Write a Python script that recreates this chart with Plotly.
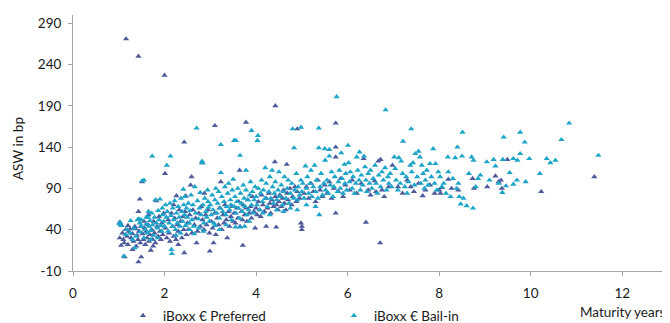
import plotly.graph_objects as go

# ---------------- data ----------------
bailin_maturity = [
    1.01, 1.03, 1.06, 1.11, 1.15, 1.18, 1.26, 1.25, 1.30, 1.33, 1.35, 1.38, 1.41, 1.44, 1.46, 1.49, 1.47, 1.50, 1.51, 1.55,
    1.55, 1.58, 1.60, 1.62, 1.64, 1.66, 1.68, 1.70, 1.72, 1.73, 1.74, 1.76, 1.78, 1.80, 1.82, 1.84, 1.86, 1.88, 1.90, 1.92,
    1.94, 1.96, 1.98, 1.60, 1.70, 1.85, 1.95, 1.65,
    2.00, 2.02, 2.05, 2.04, 2.06, 2.08, 2.10, 2.12, 2.13, 2.14, 2.15, 2.16, 2.17, 2.18, 2.20, 2.22, 2.24, 2.26, 2.28, 2.30,
    2.32, 2.34, 2.36, 2.38, 2.40, 2.41, 2.42, 2.44, 2.46, 2.48, 2.25, 2.35, 2.45,
    2.50, 2.52, 2.54, 2.56, 2.58, 2.60, 2.62, 2.64, 2.66, 2.68, 2.70, 2.72, 2.74, 2.76, 2.78, 2.80, 2.82, 2.83, 2.84, 2.86,
    2.88, 2.90, 2.92, 2.94, 2.96, 2.98, 2.55, 2.65, 2.75, 2.85, 2.95,
    3.00, 3.02, 3.04, 3.06, 3.08, 3.10, 3.12, 3.14, 3.16, 3.18, 3.20, 3.22, 3.23, 3.23, 3.25, 3.27, 3.30, 3.32, 3.34, 3.36,
    3.38, 3.40, 3.42, 3.44, 3.46, 3.48, 3.50, 3.52, 3.56, 3.10, 3.20, 3.35, 3.45,
    3.52, 3.54, 3.56, 3.58, 3.60, 3.62, 3.64, 3.65, 3.66, 3.68, 3.70, 3.72, 3.74, 3.76, 3.78, 3.78, 3.80, 3.82, 3.84, 3.86,
    3.88, 3.90, 3.90, 3.92, 3.94, 3.96, 3.98, 3.55, 3.65, 3.75, 3.85,
    4.00, 4.02, 4.04, 4.03, 4.05, 4.08, 4.10, 4.12, 4.14, 4.16, 4.20, 4.20, 4.22, 4.25, 4.28, 4.30, 4.32, 4.35, 4.36, 4.38,
    4.40, 4.42, 4.45, 4.48, 4.50, 4.15, 4.30, 4.45,
    4.52, 4.55, 4.58, 4.60, 4.62, 4.65, 4.68, 4.70, 4.72, 4.75, 4.78, 4.80, 4.83, 4.82, 4.85, 4.88, 4.90, 4.92, 4.95, 4.98,
    4.98, 4.60, 4.75, 4.90,
    5.00, 5.02, 5.05, 5.08, 5.10, 5.12, 5.15, 5.18, 5.20, 5.22, 5.25, 5.28, 5.30, 5.32, 5.35, 5.37, 5.37, 5.38, 5.40, 5.42,
    5.45, 5.48, 5.50, 5.51, 5.10, 5.30,
    5.52, 5.55, 5.58, 5.60, 5.60, 5.62, 5.65, 5.68, 5.70, 5.72, 5.76, 5.78, 5.80, 5.82, 5.84, 5.86, 5.88, 5.90, 5.93, 5.94,
    5.96, 5.98,
    6.01, 6.02, 6.04, 6.06, 6.10, 6.12, 6.15, 6.18, 6.20, 6.22, 6.25, 6.26, 6.28, 6.30, 6.33, 6.36, 6.38, 6.40, 6.42, 6.45,
    6.48,
    6.50, 6.53, 6.56, 6.60, 6.62, 6.65, 6.68, 6.72, 6.75, 6.78, 6.82, 6.83, 6.85, 6.88, 6.90, 6.93, 6.96,
    7.02, 7.04, 7.06, 7.10, 7.12, 7.15, 7.17, 7.20, 7.21, 7.25, 7.28, 7.30, 7.33, 7.37, 7.39, 7.40, 7.43, 7.46, 7.48,
    7.52, 7.55, 7.58, 7.60, 7.62, 7.65, 7.68, 7.70, 7.73, 7.76, 7.80, 7.83, 7.87, 7.90, 7.92, 7.95, 7.98,
    8.02, 8.06, 8.10, 8.15, 8.19, 8.20, 8.25, 8.30, 8.35, 8.38, 8.40, 8.42, 8.47, 8.50, 8.51, 8.53, 8.44, 8.60, 8.65, 8.74,
    8.71, 8.75, 8.80, 8.85, 8.90,
    9.04, 9.10, 9.19, 9.23, 9.30, 9.39, 9.41, 9.46, 9.38, 9.54, 9.62, 9.62, 9.70, 9.71, 9.77, 9.77, 9.87, 9.89, 9.97,
    10.20, 10.35, 10.43, 10.54, 10.67, 10.84, 11.48,
]
bailin_asw = [
    47, 49, 45, 8, 34, 40, 51, 36, 28, 42, 18, 32, 52, 53, 48, 52, 37, 44, 99, 100,
    30, 40, 47, 36, 55, 44, 51, 39, 60, 129, 46, 33, 55, 76, 48, 42, 63, 52, 77, 45,
    38, 58, 50, 55, 28, 30, 66, 62,
    44, 70, 118, 55, 62, 38, 48, 72, 129, 57, 16, 11, 44, 66, 52, 75, 40, 60, 48, 68,
    55, 44, 78, 62, 50, 89, 70, 58, 45, 66, 33, 36, 80,
    55, 72, 48, 63, 82, 52, 70, 44, 92, 60, 163, 75, 53, 66, 85, 58, 123, 121, 70, 48,
    78, 62, 55, 88, 67, 50, 40, 35, 42, 38, 74,
    70, 58, 82, 64, 48, 76, 90, 60, 72, 86, 54, 66, 109, 143, 80, 62, 74, 92, 58, 68,
    84, 96, 64, 76, 52, 88, 101, 148, 148, 45, 40, 46, 70,
    68, 80, 60, 74, 90, 66, 54, 130, 84, 72, 62, 94, 78, 68, 112, 88, 58, 76, 64, 82,
    98, 160, 70, 86, 60, 76, 92, 43, 43, 44, 50,
    80, 70, 154, 148, 90, 64, 84, 100, 74, 88, 115, 78, 96, 68, 86, 104, 78, 112, 92, 72,
    84, 98, 76, 88, 110, 60, 58, 64,
    80, 94, 70, 86, 104, 78, 90, 100, 72, 84, 96, 162, 139, 78, 88, 108, 76, 92, 82, 164,
    100, 62, 66, 64,
    86, 96, 78, 117, 90, 104, 84, 96, 112, 80, 92, 118, 86, 100, 78, 163, 139, 58, 92, 108,
    82, 96, 138, 124, 70, 68,
    88, 100, 84, 137, 129, 94, 110, 80, 92, 104, 201, 86, 98, 112, 90, 133, 102, 84, 119, 96,
    108, 88,
    142, 121, 98, 110, 90, 104, 84, 96, 128, 112, 100, 134, 88, 106, 94, 129, 116, 100, 86, 108,
    96,
    112, 90, 102, 118, 96, 84, 106, 92, 110, 100, 115, 185, 88, 104, 96, 108, 92,
    128, 114, 100, 88, 127, 96, 123, 108, 147, 92, 104, 84, 98, 118, 162, 110, 121, 94, 132,
    104, 135, 128, 96, 118, 108, 90, 100, 112, 94, 120, 104, 138, 96, 120, 88, 110,
    104, 92, 96, 84, 128, 110, 80, 102, 127, 90, 140, 96, 71, 129, 158, 78, 80, 69, 108, 66,
    128, 124, 92, 102, 106,
    122, 100, 125, 117, 96, 125, 152, 93, 85, 109, 126, 95, 100, 124, 132, 158, 146, 98, 126,
    108, 126, 121, 124, 149, 169, 130,
]

preferred_maturity = [
    1.16, 1.43, 2.00, 4.42,
    1.02, 1.05, 1.02, 1.05, 1.08, 1.10, 1.12, 1.13, 1.15, 1.18, 1.20, 1.22, 1.25, 1.27, 1.30, 1.32, 1.35, 1.37, 1.38, 1.40,
    1.42, 1.43, 1.44, 1.46, 1.47, 1.49, 1.43, 1.48, 1.20, 1.30,
    1.51, 1.52, 1.54, 1.56, 1.58, 1.60, 1.62, 1.64, 1.66, 1.68, 1.70, 1.72, 1.74, 1.76, 1.78, 1.80, 1.82, 1.84, 1.86, 1.88,
    1.90, 1.92, 1.94, 1.96, 1.98, 1.55, 1.65, 1.75,
    2.01, 2.02, 2.05, 2.08, 2.10, 2.12, 2.15, 2.18, 2.20, 2.22, 2.25, 2.26, 2.28, 2.30, 2.32, 2.35, 2.38, 2.40, 2.42, 2.43,
    2.43, 2.45, 2.46, 2.48, 2.20, 2.30,
    2.50, 2.52, 2.55, 2.57, 2.59, 2.60, 2.62, 2.65, 2.68, 2.70, 2.72, 2.75, 2.78, 2.80, 2.82, 2.83, 2.86, 2.87, 2.90, 2.92,
    2.95, 2.98, 2.99,
    3.02, 3.05, 3.07, 3.10, 3.10, 3.12, 3.15, 3.18, 3.20, 3.23, 3.25, 3.28, 3.30, 3.32, 3.35, 3.37, 3.40, 3.42, 3.45, 3.48,
    3.50,
    3.52, 3.55, 3.58, 3.60, 3.62, 3.64, 3.65, 3.68, 3.70, 3.71, 3.72, 3.75, 3.78, 3.78, 3.80, 3.82, 3.85, 3.88, 3.90, 3.92,
    3.95, 3.98,
    4.00, 4.02, 4.05, 4.08, 4.10, 4.12, 4.15, 4.18, 4.22, 4.22, 4.25, 4.28, 4.30, 4.32, 4.35, 4.38, 4.41, 4.42, 4.44, 4.45,
    4.48,
    4.50, 4.52, 4.55, 4.58, 4.60, 4.62, 4.65, 4.67, 4.68, 4.70, 4.74, 4.78, 4.80, 4.85, 4.88, 4.90, 4.90, 4.95, 4.98, 5.00,
    5.00,
    5.05, 5.10, 5.15, 5.20, 5.25, 5.30, 5.35, 5.40, 5.45, 5.50, 5.55, 5.60, 5.65, 5.70, 5.74, 5.74, 5.74, 5.74, 5.80, 5.85,
    5.90, 5.95,
    6.05, 6.10, 6.20, 6.30, 6.35, 6.40, 6.45, 6.50, 6.59, 6.62, 6.67, 6.71, 6.72, 6.75, 6.80, 6.90, 6.98,
    7.10, 7.20, 7.30, 7.38, 7.45, 7.55, 7.64, 7.70, 7.80, 7.90,
    8.00, 8.03, 8.06, 8.20, 8.27, 8.42, 8.73, 8.76, 9.05, 9.23, 9.30, 9.35, 9.37, 9.49, 10.23, 11.39,
]
preferred_asw = [
    271, 250, 227, 190,
    49, 46, 30, 21, 36, 28, 24, 7, 40, 32, 22, 38, 41, 30, 35, 26, 44, 41, 20, 33,
    28, 62, 38, 77, 24, 7, 1, 44, 45, 16,
    98, 35, 28, 42, 22, 38, 30, 46, 26, 34, 15, 40, 28, 50, 36, 24, 75, 44, 32, 56,
    38, 28, 48, 34, 60, 50, 58, 20,
    108, 42, 30, 52, 36, 26, 60, 44, 32, 54, 28, 81, 46, 38, 64, 50, 30, 56, 40, 146,
    12, 62, 81, 34, 70, 22,
    48, 40, 58, 94, 104, 36, 64, 46, 54, 24, 38, 60, 44, 68, 121, 52, 40, 84, 58, 46,
    64, 36, 14,
    50, 42, 24, 166, 60, 34, 54, 46, 66, 98, 40, 58, 48, 70, 52, 30, 62, 44, 56, 68,
    50,
    60, 48, 66, 54, 74, 112, 44, 62, 52, 21, 70, 58, 170, 66, 50, 76, 60, 68, 54, 80,
    62, 42,
    66, 58, 74, 64, 56, 82, 70, 62, 44, 78, 66, 84, 72, 60, 76, 68, 122, 80, 43, 70,
    64,
    74, 82, 68, 78, 88, 72, 64, 119, 84, 76, 90, 70, 80, 92, 74, 162, 86, 78, 48, 44,
    40,
    84, 92, 78, 96, 86, 74, 100, 88, 80, 94, 84, 98, 78, 90, 169, 140, 128, 60, 86, 102,
    80, 94,
    88, 100, 84, 96, 126, 49, 88, 82, 99, 86, 123, 24, 125, 88, 80, 92, 118,
    92, 84, 100, 92, 86, 96, 81, 88, 94, 84,
    88, 84, 91, 101, 90, 88, 102, 90, 92, 105, 98, 100, 90, 125, 86, 104,
]

series_names = ["iBoxx € Preferred", "iBoxx € Bail-in"]
y_ticks = [-10, 40, 90, 140, 190, 240, 290]
y_tick_labels = ["-10", "40", "90", "140", "190", "240", "290"]
x_ticks = [0, 2, 4, 6, 8, 10, 12]

PREF_COLOR = "#4F5A9C"
BAIL_COLOR = "#1CA5C8"
FONT = "Lato, 'Open Sans', 'DejaVu Sans', sans-serif"
TEXT_COLOR = "#1a1a1a"

fig = go.Figure()
fig.add_trace(go.Scatter(
    x=preferred_maturity, y=preferred_asw, mode="markers", name=series_names[0],
    marker=dict(symbol="triangle-up", size=5.5, color=PREF_COLOR, line=dict(width=0)),
))
fig.add_trace(go.Scatter(
    x=bailin_maturity, y=bailin_asw, mode="markers", name=series_names[1],
    marker=dict(symbol="triangle-up", size=5.5, color=BAIL_COLOR, line=dict(width=0)),
))

axis_color = "#A6A6A6"
# the page body adds an 8px offset, so the figure is 662x315
fig.update_layout(
    width=662, height=315,
    margin=dict(l=65, r=2, t=7, b=52, autoexpand=False),
    paper_bgcolor="white", plot_bgcolor="white",
    font=dict(family=FONT, size=13, color=TEXT_COLOR),
    showlegend=True,
    legend=dict(orientation="h", x=0.084, xanchor="left", y=-0.175, yanchor="middle",
                entrywidth=166, entrywidthmode="pixels",
                font=dict(family=FONT, size=13.5, color=TEXT_COLOR),
                itemsizing="trace", tracegroupgap=0, bgcolor="rgba(0,0,0,0)"),
    xaxis=dict(range=[0, 13], tickvals=x_ticks, showgrid=False, zeroline=False,
               showline=True, linecolor=axis_color, linewidth=1,
               ticks="outside", ticklen=4, tickcolor=axis_color,
               tickfont=dict(size=13.5), ticklabelstandoff=6),
    yaxis=dict(range=[-10, 300], tickvals=y_ticks, ticktext=y_tick_labels,
               showgrid=False, zeroline=False,
               showline=True, linecolor=axis_color, linewidth=1,
               ticks="outside", ticklen=4, tickcolor=axis_color,
               tickfont=dict(size=13.5), ticklabelstandoff=4),
    annotations=[
        dict(text="ASW in bp", xref="paper", yref="paper",
             x=-0.0925, xanchor="center", y=0.48, yanchor="middle", textangle=-90,
             showarrow=False, font=dict(family=FONT, size=13.5, color=TEXT_COLOR)),
        dict(text="Maturity years", xref="paper", yref="paper",
             x=1.0, xanchor="right", y=-0.16, yanchor="middle",
             showarrow=False, font=dict(family=FONT, size=13.5, color=TEXT_COLOR)),
    ],
)

fig.write_html("out.html")
